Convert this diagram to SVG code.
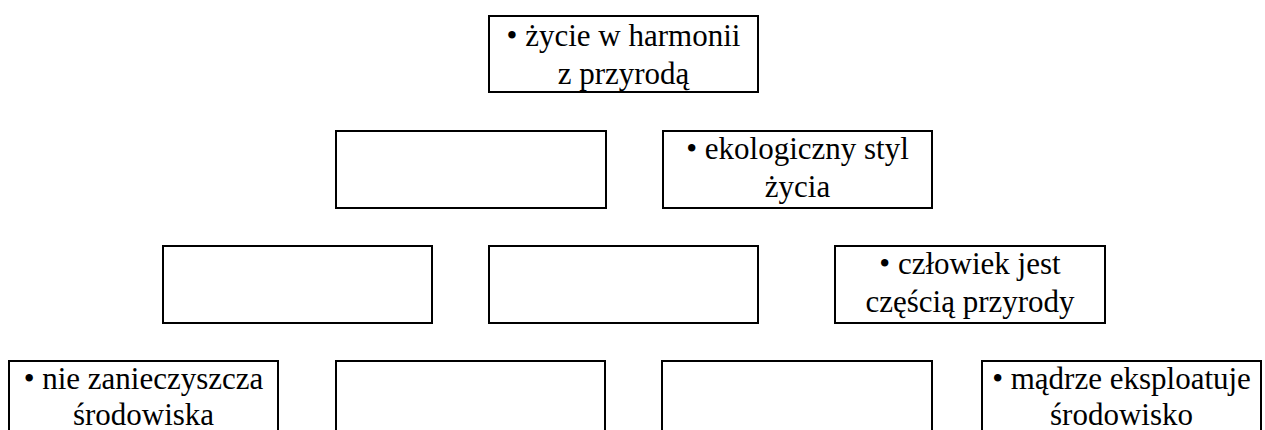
<svg xmlns="http://www.w3.org/2000/svg" width="1265" height="430" viewBox="0 0 1265 430">
<style>
.box{fill:#fff;stroke:#000;stroke-width:2}
.t{font-family:'Liberation Serif','Times New Roman',serif;font-size:31px;fill:#000;text-anchor:middle}
</style>
<rect width="1265" height="430" fill="#fff"/>
<g id="connectors"></g>
<g id="n1"><rect class="box" x="489" y="16" width="269" height="76"/><text class="t" x="623.5" y="46">• życie w harmonii</text><text class="t" x="623.5" y="84">z przyrodą</text></g>
<g id="n2"><rect class="box" x="336" y="131" width="270" height="77"/></g>
<g id="n3"><rect class="box" x="663" y="131" width="269" height="77"/><text class="t" x="797.5" y="159">• ekologiczny styl</text><text class="t" x="797.5" y="197">życia</text></g>
<g id="n4"><rect class="box" x="163" y="246" width="269" height="77"/></g>
<g id="n5"><rect class="box" x="489" y="246" width="269" height="77"/></g>
<g id="n6"><rect class="box" x="835" y="246" width="270" height="77"/><text class="t" x="970" y="274">• człowiek jest</text><text class="t" x="970" y="312">częścią przyrody</text></g>
<g id="n7"><rect class="box" x="9" y="361" width="269" height="80"/><text class="t" x="143.5" y="389">• nie zanieczyszcza</text><text class="t" x="143.5" y="425">środowiska</text></g>
<g id="n8"><rect class="box" x="336" y="361" width="269" height="80"/></g>
<g id="n9"><rect class="box" x="662" y="361" width="270" height="80"/></g>
<g id="n10"><rect class="box" x="982" y="361" width="279" height="80"/><text class="t" x="1121.5" y="389">• mądrze eksploatuje</text><text class="t" x="1121.5" y="425">środowisko</text></g>
</svg>
